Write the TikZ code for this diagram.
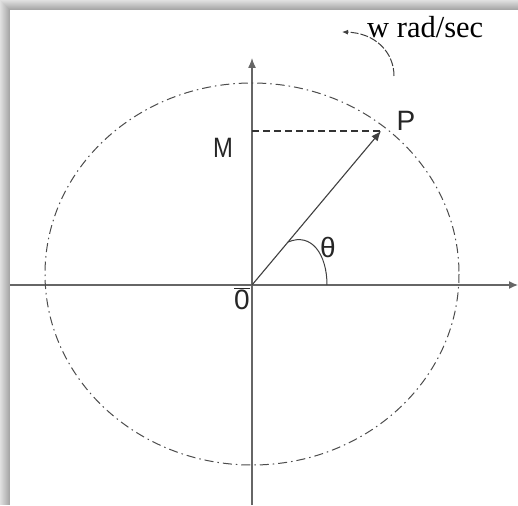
\documentclass[tikz,border=0pt]{standalone}
\usepackage{fontspec}
\setmainfont{Liberation Serif}
\newfontfamily\lblfont{Liberation Sans}
\usetikzlibrary{arrows.meta}
\tikzset{
  axisline/.style={draw=black!60, line width=1.3pt},
  ell/.style={draw=black!70, line width=1pt, dash pattern=on 9pt off 4pt on 1.5pt off 4pt},
  proj/.style={draw=black!80, line width=1.1pt, dash pattern=on 7pt off 4pt},
  vec/.style={draw=black!75, line width=1.1pt, -{Latex[length=10pt,width=8pt]}},
  lbl/.style={font=\lblfont\fontsize{28}{28}\selectfont, text=black!85, inner sep=0pt},
  rot/.style={draw=black!75, line width=1pt, dash pattern=on 8pt off 2pt, -{Latex[length=6pt,width=5pt]}}
}
\begin{document}
\begin{tikzpicture}[x=1pt,y=-1pt]
\useasboundingbox (0,0) rectangle (518,505);
\fill[white] (0,0) rectangle (518,505);
\foreach \i in {0,...,9}{
  \pgfmathsetmacro{\g}{12+2.5*\i}
  \fill[black!\g] (\i,\i) rectangle (518,\i+1);
  \fill[black!\g] (\i,\i) rectangle (\i+1,505);
}
% coordinates
\coordinate (O) at (252,285);
\coordinate (xl) at (10,285);
\coordinate (xr) at (518,285);
\coordinate (yb) at (252,505);
\coordinate (yt) at (252,58);
\coordinate (P) at (381,131);
\coordinate (M) at (252,131);
\coordinate (ec) at (252,274);
% axes
\draw[axisline, -{Latex[length=9pt,width=8pt]}] (xl) -- (xr);
\draw[axisline, -{Latex[length=10pt,width=8pt]}] (yb) -- (yt);
% ellipse
\draw[ell] (ec) ellipse [x radius=207, y radius=191];
% projection
\draw[proj] (M) -- (P);
% vector
\draw[vec] (O) -- (P);
% angle arc
\coordinate (a1) at (288,242);
\coordinate (a2) at (327,285);
\draw[draw=black!75, line width=1pt] (a1) .. controls (312,232) and (327,255) .. (a2);
% labels
\node[lbl] (Plbl) at (406,121) {P};
\node[lbl, xscale=0.85] (Mlbl) at (223,148) {M};
\node[lbl] (th) at (328,247) {θ};
\node[lbl] (Olbl) at (242,299) {$\overline{\hbox{\lblfont 0}}$};
\node[font=\fontsize{30.5}{30.5}\selectfont, inner sep=0pt, anchor=west] (w) at (367,27) {w rad/sec};
% rotation arrow
\coordinate (r1) at (394,76);
\coordinate (r2) at (342,32);
\draw[rot] (r1) .. controls (394,52) and (375,33) .. (r2);
\end{tikzpicture}
\end{document}
